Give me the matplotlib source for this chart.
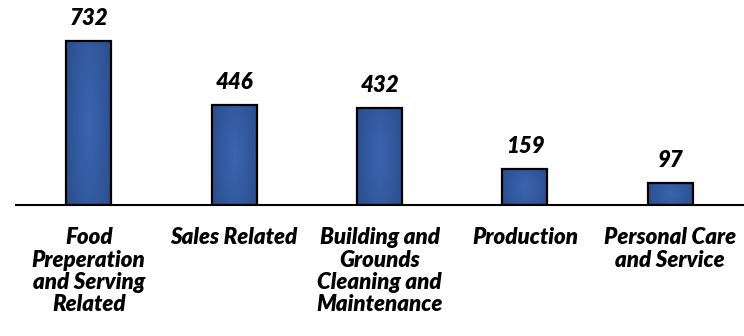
import numpy as np
import matplotlib
matplotlib.use("Agg")
import matplotlib.pyplot as plt
from matplotlib.colors import LinearSegmentedColormap

categories = [
    "Food\nPreperation\nand Serving\nRelated",
    "Sales Related",
    "Building and\nGrounds\nCleaning and\nMaintenance",
    "Production",
    "Personal Care\nand Service",
]
values = [732, 446, 432, 159, 97]

plt.rcParams["font.family"] = ["Lato", "DejaVu Sans"]

fig = plt.figure(figsize=(7.44, 3.36), dpi=100)
ax = fig.add_axes([16 / 744, (336 - 205) / 336, (743 - 16) / 744, 205 / 336])

x = np.arange(len(values))
bar_w = 0.31
bars = ax.bar(x, values, width=bar_w, color="none", edgecolor="black", linewidth=1.6, zorder=3)

# soft shaded fill for each bar: lighter centre, darker edges
cmap = LinearSegmentedColormap.from_list("shade", ["#2b4f8f", "#3a65b0"])
gx = np.linspace(-1, 1, 200)
gy = np.linspace(-1, 1, 200)
GX, GY = np.meshgrid(gx, gy)
shade = 1 - np.clip(np.sqrt(GX**2 * 0.85 + GY**2 * 0.25), 0, 1)
for b in bars:
    x0, y0 = b.get_x(), b.get_y()
    w, h = b.get_width(), b.get_height()
    im = ax.imshow(shade, cmap=cmap, extent=(x0, x0 + w, y0, y0 + h),
                   aspect="auto", origin="lower", zorder=2, interpolation="bilinear")
    im.set_clip_path(b)

for xi, v in zip(x, values):
    ax.text(xi, v + 55, f"{v}", ha="center", va="bottom", fontsize=16,
            fontweight="heavy", fontstyle="italic", color="black")

ax.set_xlim(-0.5, len(values) - 0.5)
ax.set_ylim(0, 915)
ax.set_xticks(x)
ax.set_xticklabels(categories, fontsize=16, fontweight="heavy", fontstyle="italic",
                   linespacing=1.08, va="top")
ax.tick_params(axis="x", length=0, pad=16)
ax.set_yticks([])
for s in ["top", "right", "left"]:
    ax.spines[s].set_visible(False)
ax.spines["bottom"].set_linewidth(1.5)
ax.spines["bottom"].set_zorder(4)

fig.savefig("out.png", dpi=100)
